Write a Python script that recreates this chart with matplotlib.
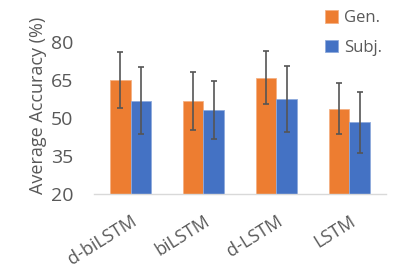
import matplotlib
matplotlib.use("Agg")
import matplotlib.pyplot as plt
import numpy as np

categories = ["d-biLSTM", "biLSTM", "d-LSTM", "LSTM"]
gen_vals = [65.0, 56.7, 65.8, 53.7]
gen_err = [11.2, 11.3, 10.5, 10.1]
subj_vals = [56.7, 53.2, 57.5, 48.3]
subj_err = [13.2, 11.5, 13.0, 12.0]
yticks = [20, 35, 50, 65, 80]

plt.rcParams['font.family'] = ['Open Sans', 'DejaVu Sans']
gray = '#595959'

fig = plt.figure(figsize=(3.99, 2.72), dpi=100)
ax = fig.add_axes([0.2356, 0.287, 0.7318, 0.559])

x = np.arange(len(categories))
w = 0.283
ekw = dict(ecolor='#555555', elinewidth=1.2, capsize=2, capthick=1.2)
ax.bar(x - w/2, gen_vals, w, yerr=gen_err, color='#ED7D31', edgecolor='#F4B183',
       linewidth=0.6, label='Gen.', error_kw=ekw)
ax.bar(x + w/2, subj_vals, w, yerr=subj_err, color='#4472C4', edgecolor='#8FAADC',
       linewidth=0.6, label='Subj.', error_kw=ekw)

ax.set_ylim(20, 80)
ax.set_xlim(-0.5, 3.5)
ax.set_yticks(yticks)
ax.set_yticklabels([str(t) for t in yticks], fontsize=14, color=gray)
ax.set_xticks(x)
ax.set_xticklabels(categories, rotation=32, ha='right', rotation_mode='anchor',
                   fontsize=13, color=gray)
ax.tick_params(axis='y', length=0, pad=15)
ax.tick_params(axis='x', length=0, pad=13)
for s in ['top', 'right', 'left']:
    ax.spines[s].set_visible(False)
ax.spines['bottom'].set_color('#D9D9D9')
ax.spines['bottom'].set_linewidth(1.0)

ax.set_ylabel('Average Accuracy (%)', fontsize=13, color=gray)
ax.yaxis.set_label_coords(-0.16, 0.58)

fig.legend(loc='upper left', bbox_to_anchor=(0.815, 0.962), frameon=False,
           fontsize=12, handlelength=0.75, handleheight=0.75, handletextpad=0.4,
           labelspacing=0.8, borderpad=0, borderaxespad=0, labelcolor=gray)

fig.savefig('out.png', dpi=100)
